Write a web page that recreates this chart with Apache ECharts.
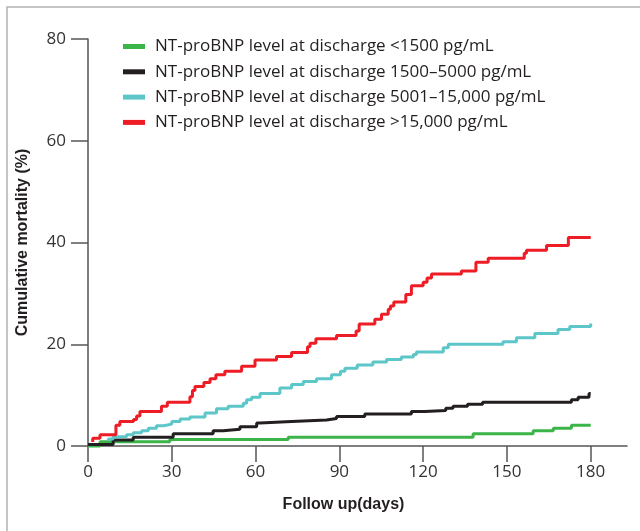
<!DOCTYPE html>
<html>
<head>
<meta charset="utf-8">
<script src="https://cdn.jsdelivr.net/npm/echarts@6/dist/echarts.min.js"></script>
<style>
html,body{margin:0;padding:0;background:#fff;}
#chart{width:640px;height:531px;}
</style>
</head>
<body>
<div id="chart"></div>
<script>
// ---- data ----
const seriesNames = [
  'NT-proBNP level at discharge <1500 pg/mL',
  'NT-proBNP level at discharge 1500\u20135000 pg/mL',
  'NT-proBNP level at discharge 5001\u201315,000 pg/mL',
  'NT-proBNP level at discharge >15,000 pg/mL'
];
const xTicks = [0, 30, 60, 90, 120, 150, 180];

const greenDays = [0, 4.3, 29.3, 71.7, 137.9, 159.4, 166.6, 173.1, 180];
const greenVals = [0, 0.85, 1.3, 1.7, 2.4, 3.0, 3.5, 4.1, 4.1];

const blackDays = [0, 9, 16.2, 30.5, 44.8, 48.4, 54.4, 60.4, 61.6, 72.9, 85.4, 89, 99.1, 115.8, 120.6, 128.1, 130.7, 135.9, 141.3, 173.1, 175.5, 179.4, 180];
const blackVals = [0.3, 1.2, 1.7, 2.4, 3.0, 3.3, 3.8, 4.5, 4.8, 5.1, 5.4, 5.8, 6.3, 6.8, 7.0, 7.4, 7.8, 8.2, 8.6, 9.1, 9.6, 10.3, 10.3];

const cyanDays = [7.3, 7.3, 9, 13.8, 16.2, 19.2, 21.6, 24.5, 27, 30, 33, 36.5, 41.9, 46, 50.2, 55.6, 56.8, 58.6, 61.6, 68.7, 72.9, 77.1, 81.8, 87.2, 90.4, 92, 96.4, 102, 106.9, 112.2, 116.5, 117.6, 127.2, 129, 148.6, 153.4, 160, 168.3, 172.5, 180];
const cyanVals = [1.0, 1.4, 1.8, 2.2, 2.6, 3.0, 3.5, 4.0, 4.3, 4.8, 5.3, 5.7, 6.5, 7.3, 7.8, 8.4, 9.1, 9.6, 10.3, 11.4, 12.1, 12.7, 13.2, 14.0, 14.7, 15.3, 15.9, 16.5, 17.0, 17.5, 18.0, 18.5, 19.3, 20.0, 20.5, 21.3, 22.1, 22.9, 23.5, 24.1];

const redDays = [1.7, 1.7, 4.3, 10, 11.4, 16.3, 17.4, 18.6, 26.3, 28.4, 36.5, 37.4, 38.3, 41.5, 43.7, 45.8, 49, 55, 59.8, 67.5, 72.9, 78.6, 79.5, 81.6, 89, 96, 97.1, 102.7, 105.1, 107.5, 108.3, 109.5, 113.8, 115.8, 120, 121.4, 123, 133.7, 138.9, 143.3, 156.2, 157, 164.2, 172, 180];
const redVals = [0.8, 1.5, 2.2, 4.1, 4.8, 5.2, 5.9, 6.8, 7.8, 8.6, 9.7, 10.9, 11.7, 12.5, 13.2, 14.0, 14.7, 15.7, 16.9, 17.6, 18.4, 19.5, 20.2, 21.1, 21.7, 22.6, 24.0, 24.9, 25.9, 26.9, 27.5, 28.3, 29.8, 31.5, 32.2, 33.0, 33.8, 34.4, 36.1, 36.9, 37.9, 38.5, 39.4, 41.0, 41.0];

// ---- chart ----
const FONT = 'Open Sans';
const TITLE_FONT = 'Liberation Sans';
const colors = ['#3bb54a', '#231f20', '#5cc6c8', '#ee1c25'];
const pairs = (d, v) => d.map((x, i) => [x, v[i]]);
const allData = [pairs(greenDays, greenVals), pairs(blackDays, blackVals), pairs(cyanDays, cyanVals), pairs(redDays, redVals)];

const chart = echarts.init(document.getElementById('chart'), null, {renderer: 'canvas'});
chart.setOption({
  animation: false,
  backgroundColor: '#fff',
  textStyle: {fontFamily: FONT},
  grid: {left: 88, right: 13, top: 39, bottom: 85},
  legend: {
    orient: 'vertical', left: 123, top: 38, padding: 0,
    itemWidth: 22, itemHeight: 5, itemGap: 8.3, icon: 'rect',
    textStyle: {fontFamily: FONT, fontSize: 17, color: '#231f20', lineHeight: 17, padding: [0, 0, 0, 5]},
    data: seriesNames
  },
  xAxis: {
    type: 'value', min: 0, max: 193,
    name: 'Follow up(days)', nameLocation: 'middle', nameGap: 51,
    nameTextStyle: {fontFamily: TITLE_FONT, fontSize: 16, fontWeight: 'bold', color: '#231f20', padding: [0, 28, 0, 0]},
    axisLine: {show: true, lineStyle: {color: '#555', width: 1.5}},
    axisTick: {show: true, length: 16, customValues: xTicks, lineStyle: {color: '#555', width: 1.5}},
    axisLabel: {customValues: xTicks, fontSize: 17, color: '#333', margin: 18, fontFamily: FONT},
    splitLine: {show: false}
  },
  yAxis: {
    type: 'value', min: 0, max: 80, interval: 20,
    name: 'Cumulative mortality (%)', nameLocation: 'middle', nameGap: 57,
    nameTextStyle: {fontFamily: TITLE_FONT, fontSize: 16, fontWeight: 'bold', color: '#231f20'},
    axisLine: {show: true, onZero: false, lineStyle: {color: '#555', width: 1.5}},
    axisTick: {show: true, length: 17, lineStyle: {color: '#555', width: 1.5}},
    axisLabel: {fontSize: 17, color: '#333', margin: 22, fontFamily: FONT},
    splitLine: {show: false}
  },
  graphic: [{
    type: 'polyline', silent: true,
    shape: {points: [[7, 531], [7, 7], [640, 7]]},
    style: {stroke: '#b3b3b3', lineWidth: 1.5, fill: null}
  }],
  series: seriesNames.map((name, i) => ({
    name, type: 'line', step: 'end', data: allData[i],
    showSymbol: false, symbol: 'none', clip: false,
    color: colors[i],
    lineStyle: {width: 3, color: colors[i]},
    z: 3 + i
  }))
});
</script>
</body>
</html>
